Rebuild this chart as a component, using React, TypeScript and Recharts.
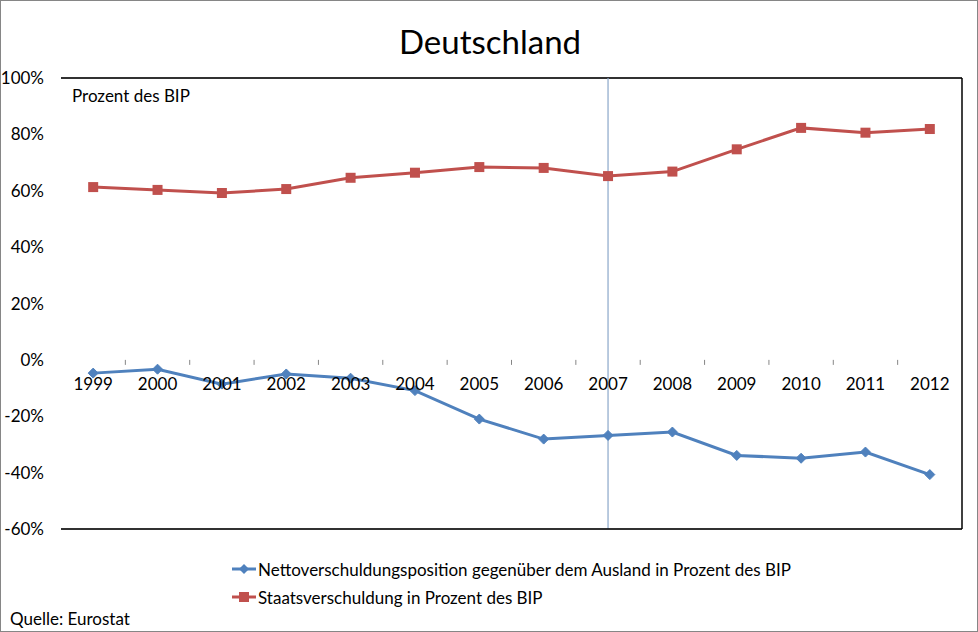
import React from "react";
import {
  CartesianGrid,
  Legend,
  Line,
  LineChart,
  ReferenceLine,
  XAxis,
  YAxis,
} from "recharts";

const years = ["1999", "2000", "2001", "2002", "2003", "2004", "2005", "2006", "2007", "2008", "2009", "2010", "2011", "2012"];
const nettoAusland = [-4.7, -3.3, -8.6, -5.0, -6.5, -10.9, -21.0, -28.1, -26.8, -25.6, -33.9, -34.9, -32.7, -40.7];
const staatsschuld = [61.3, 60.3, 59.2, 60.6, 64.6, 66.4, 68.4, 68.1, 65.2, 66.8, 74.7, 82.3, 80.6, 81.9];
const yTicks = [-60, -40, -20, 0, 20, 40, 60, 80, 100];
const markerYear = "2007";

const BLUE = "#4F81BD";
const RED = "#C0504D";
const FONT = "Lato, 'Open Sans', sans-serif";

const W = 978;
const H = 632;
const PLOT_LEFT = 61;
const PLOT_RIGHT = 962;
const PLOT_TOP = 78;
const PLOT_BOTTOM = 529;
const Y_MIN = -60;
const Y_MAX = 100;

const data = years.map((y, i) => ({ year: y, netto: nettoAusland[i], staat: staatsschuld[i] }));

const zeroY = PLOT_TOP + ((PLOT_BOTTOM - PLOT_TOP) * Y_MAX) / (Y_MAX - Y_MIN);
const band = (PLOT_RIGHT - PLOT_LEFT) / years.length;

// category labels sit on the 0% line, like Excel does it
function CatTick(props: any) {
  const { x, payload, index } = props;
  return (
    <g>
      {index > 0 && (
        <line x1={x - band / 2} x2={x - band / 2} y1={zeroY} y2={zeroY + 5} stroke="#868686" />
      )}
      <text x={x} y={zeroY + 30} textAnchor="middle" fontSize={17} fontFamily={FONT} fill="#000">
        {payload.value}
      </text>
    </g>
  );
}

function Diamond(props: any) {
  const { cx, cy } = props;
  if (cx == null || cy == null) return null;
  const r = 5;
  return <polygon points={`${cx},${cy - r} ${cx + r},${cy} ${cx},${cy + r} ${cx - r},${cy}`} fill={BLUE} stroke={BLUE} />;
}

function Square(props: any) {
  const { cx, cy } = props;
  if (cx == null || cy == null) return null;
  return <rect x={cx - 5} y={cy - 5} width={10} height={10} fill={RED} />;
}

function LegendBox() {
  const rows = [
    { color: BLUE, label: "Nettoverschuldungsposition gegenüber dem Ausland in Prozent des BIP", shape: "diamond" },
    { color: RED, label: "Staatsverschuldung in Prozent des BIP", shape: "square" },
  ];
  return (
    <div style={{ fontFamily: FONT, fontSize: 17, color: "#000" }}>
      {rows.map((r) => (
        <div key={r.label} style={{ display: "flex", alignItems: "center", height: 28 }}>
          <svg width={24} height={14} style={{ marginRight: 2 }}>
            <line x1={0} x2={24} y1={7} y2={7} stroke={r.color} strokeWidth={3} />
            {r.shape === "diamond" ? (
              <polygon points="12,2 17,7 12,12 7,7" fill={r.color} />
            ) : (
              <rect x={7} y={2} width={10} height={10} fill={r.color} />
            )}
          </svg>
          <span>{r.label}</span>
        </div>
      ))}
    </div>
  );
}

export default function App() {
  return (
    <div
      style={{
        position: "relative",
        width: W,
        height: H,
        boxSizing: "border-box",
        border: "1px solid #868686",
        background: "#fff",
        fontFamily: FONT,
      }}
    >
      <style>{"body{margin:0}"}</style>
      <div style={{ position: "absolute", top: 20, left: 0, width: W, textAlign: "center", fontSize: 33 }}>
        Deutschland
      </div>
      <div style={{ position: "absolute", left: 71, top: 84, fontSize: 17 }}>Prozent des BIP</div>
      <div style={{ position: "absolute", left: 9, top: 607, fontSize: 17 }}>Quelle: Eurostat</div>
      <div style={{ position: "absolute", left: -1, top: -1 }}>
        <LineChart
          width={W}
          height={H}
          data={data}
          margin={{ top: PLOT_TOP, right: W - PLOT_RIGHT - 1, bottom: H - PLOT_BOTTOM - 1, left: 5 }}
        >
          <CartesianGrid vertical={false} stroke="#868686" />
          <XAxis
            dataKey="year"
            axisLine={{ stroke: "#000", strokeWidth: 1.5 }}
            tickLine={false}
            tick={CatTick}
            interval={0}
            height={1}
            padding={{ left: band / 2, right: band / 2 }}
          />
          <YAxis
            yAxisId="left"
            domain={[Y_MIN, Y_MAX]}
            ticks={yTicks}
            tickFormatter={(v) => `${v}%`}
            axisLine={false}
            tickLine={false}
            tickMargin={11}
            width={56}
            tick={{ fontSize: 17, fontFamily: FONT, fill: "#000" }}
          />
          <YAxis
            yAxisId="right"
            orientation="right"
            domain={[Y_MIN, Y_MAX]}
            tick={false}
            tickLine={false}
            axisLine={{ stroke: "#000", strokeWidth: 1.5 }}
            width={1}
          />
          <ReferenceLine yAxisId="left" y={Y_MAX} stroke="#000" strokeWidth={1.5} />
          <ReferenceLine yAxisId="left" x={markerYear} stroke="#8AA6C9" strokeWidth={1.2} />
          <Line
            yAxisId="left"
            dataKey="staat"
            name="Staatsverschuldung in Prozent des BIP"
            stroke={RED}
            strokeWidth={3}
            dot={<Square />}
            activeDot={false}
            isAnimationActive={false}
          />
          <Line
            yAxisId="left"
            dataKey="netto"
            name="Nettoverschuldungsposition gegenüber dem Ausland in Prozent des BIP"
            stroke={BLUE}
            strokeWidth={3}
            dot={<Diamond />}
            activeDot={false}
            isAnimationActive={false}
          />
          <Legend
            layout="vertical"
            align="center"
            verticalAlign="middle"
            content={<LegendBox />}
            wrapperStyle={{ left: 232, top: 555, width: 640 }}
          />
        </LineChart>
      </div>
    </div>
  );
}
